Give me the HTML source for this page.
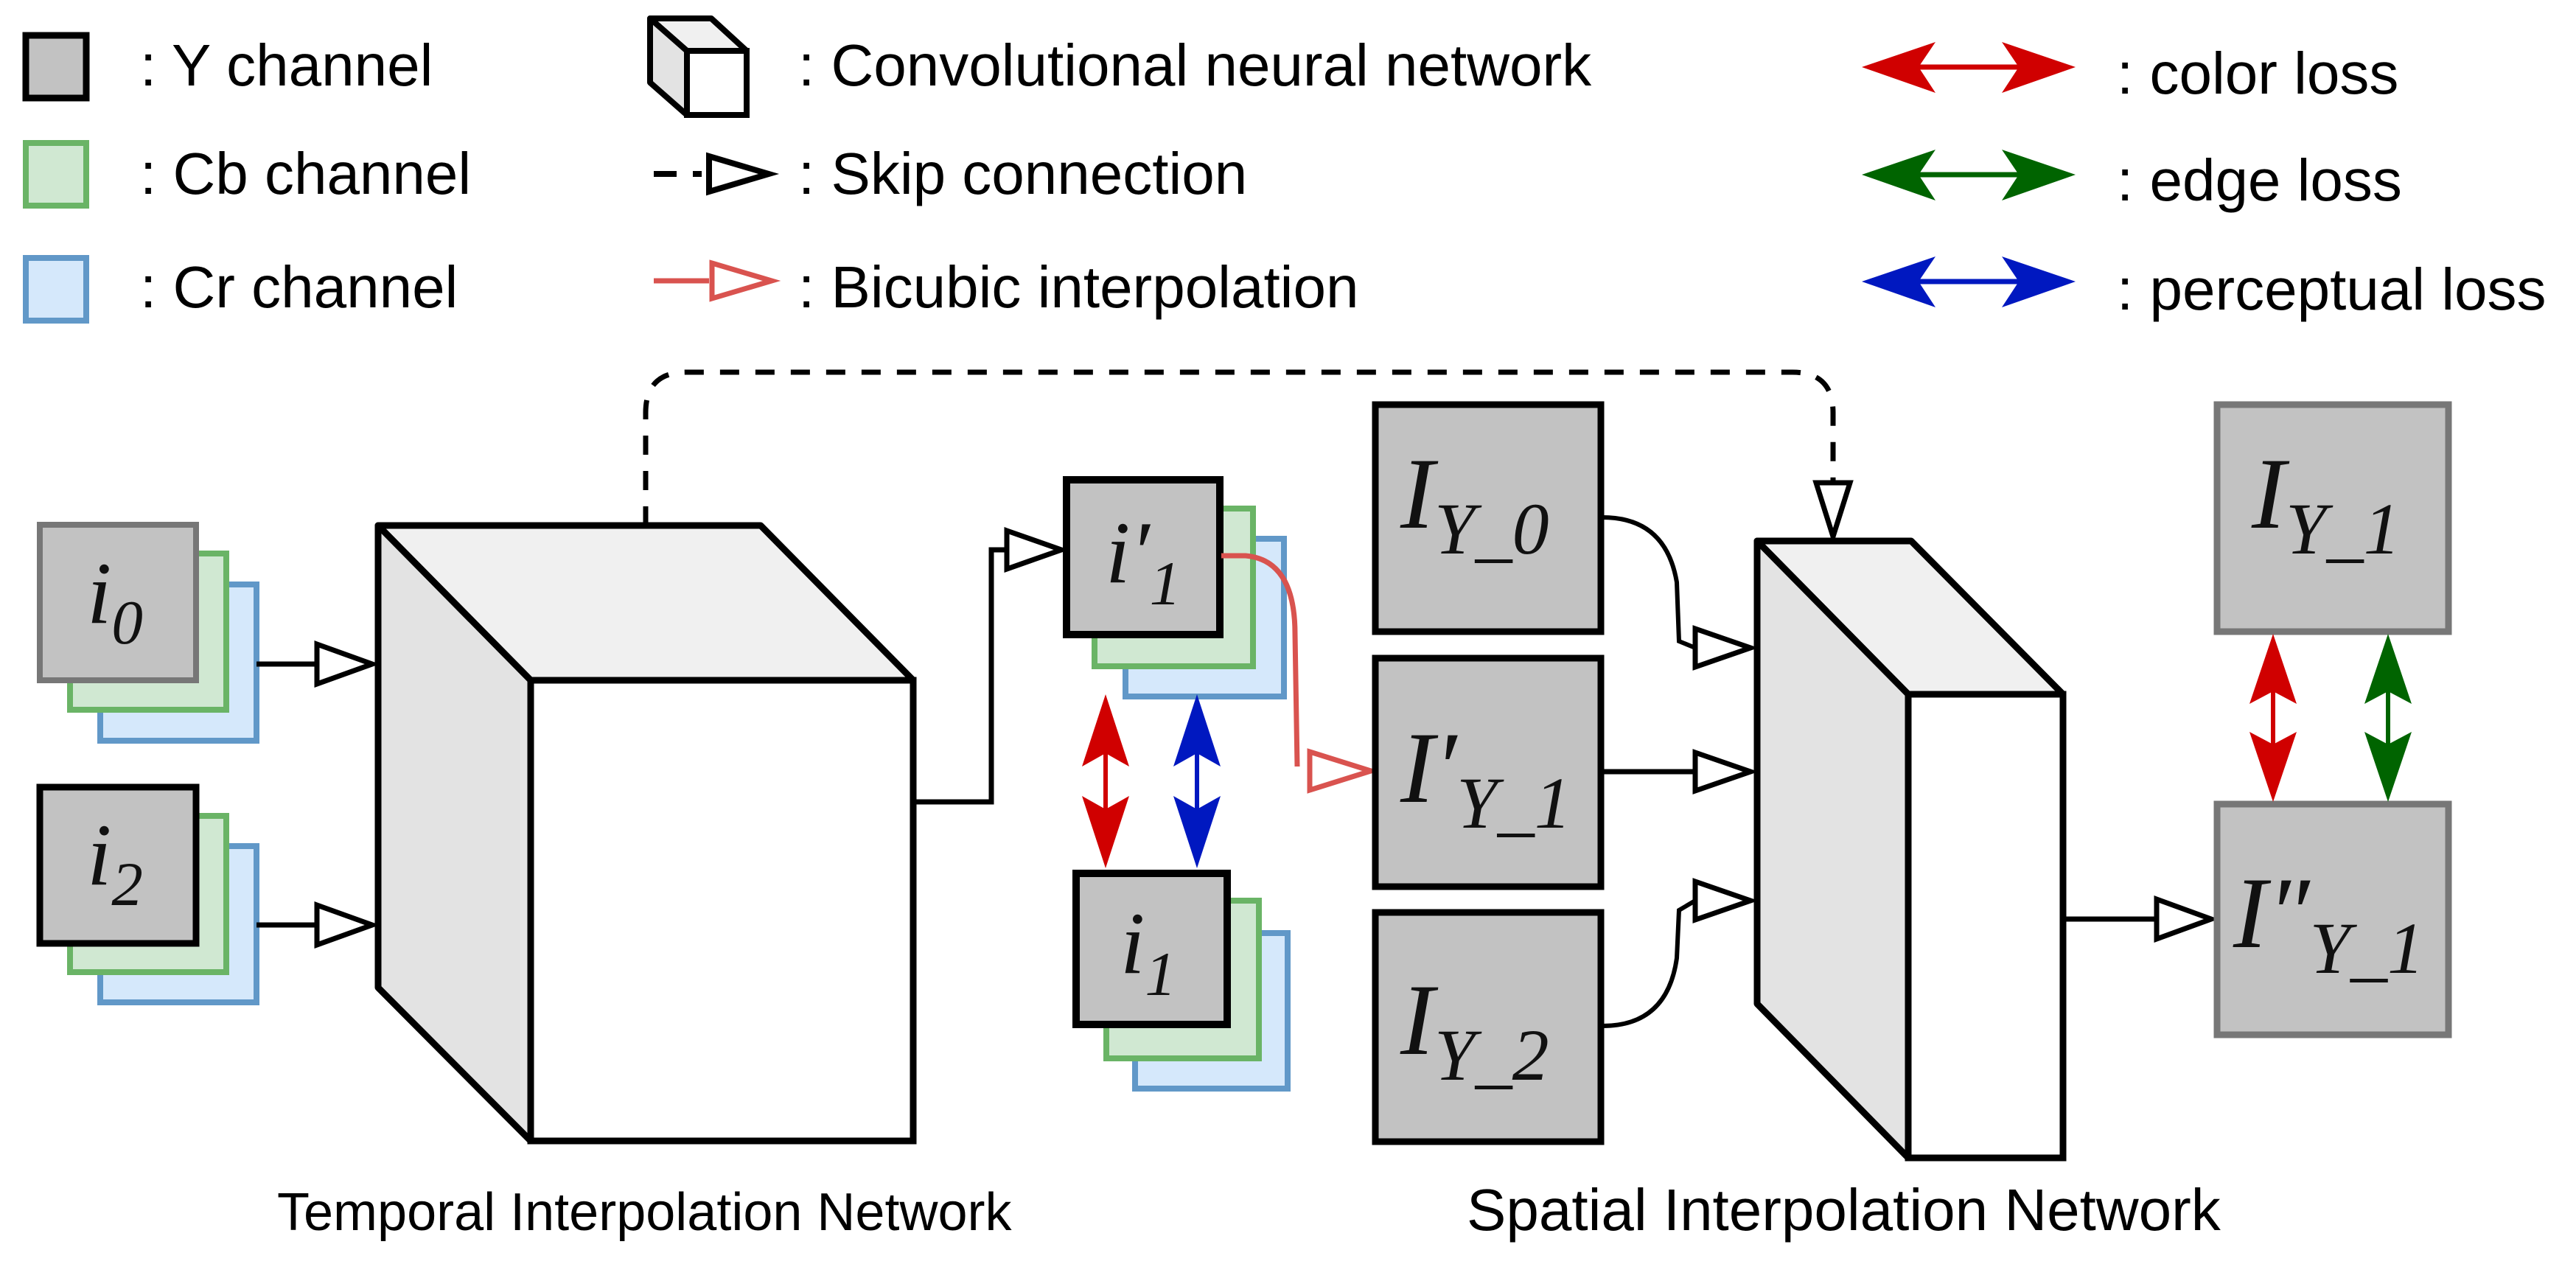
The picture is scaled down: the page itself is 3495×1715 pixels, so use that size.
<!DOCTYPE html>
<html><head><meta charset="utf-8"><style>
html,body{margin:0;padding:0;background:#fff;}
svg{display:block;}
.t{font-family:"Liberation Sans",sans-serif;fill:#000;}
.m{font-family:"Liberation Serif",serif;font-style:italic;fill:#111;}
</style></head><body>
<svg width="3495" height="1715" viewBox="0 0 3495 1715" xmlns="http://www.w3.org/2000/svg">

<!-- Legend boxes -->
<rect x="35" y="48" width="82" height="85" fill="#c2c2c2" stroke="#000" stroke-width="9"/>
<rect x="35" y="194" width="82" height="85" fill="#d0e8d2" stroke="#6ab466" stroke-width="8"/>
<rect x="35" y="350" width="82" height="85" fill="#d5e8fb" stroke="#6198c8" stroke-width="8"/>
<text class="t" x="190" y="116" font-size="80">: Y channel</text>
<text class="t" x="190" y="263" font-size="80">: Cb channel</text>
<text class="t" x="190" y="417" font-size="80">: Cr channel</text>

<!-- legend cube -->
<polygon points="882,25 965,25 1013,69 932,69" fill="#f0f0f0" stroke="#000" stroke-width="8" stroke-linejoin="round"/>
<polygon points="882,25 932,69 932,156 882,112" fill="#e3e3e3" stroke="#000" stroke-width="8" stroke-linejoin="round"/>
<rect x="932" y="69" width="81" height="87" fill="#fff" stroke="#000" stroke-width="8"/>
<text class="t" x="1083" y="116" font-size="80">: Convolutional neural network</text>

<!-- skip legend -->
<line x1="887" y1="236" x2="918" y2="236" stroke="#000" stroke-width="8"/>
<line x1="940" y1="236" x2="952" y2="236" stroke="#000" stroke-width="8"/>
<polygon points="962,212 1043,236 962,260" fill="#fff" stroke="#000" stroke-width="8"/>
<text class="t" x="1083" y="263" font-size="80">: Skip connection</text>

<!-- bicubic legend -->
<line x1="887" y1="381" x2="962" y2="381" stroke="#d9534f" stroke-width="7"/>
<polygon points="966,357 1047,381 966,405" fill="#fff" stroke="#d9534f" stroke-width="7"/>
<text class="t" x="1083" y="417" font-size="80">: Bicubic interpolation</text>

<!-- loss legend -->
<line x1="2560" y1="91" x2="2782" y2="91" stroke="#d00000" stroke-width="7"/>
<polygon points="2526,91 2626,57 2603,91 2626,126" fill="#d00000"/>
<polygon points="2816,91 2716,57 2739,91 2716,126" fill="#d00000"/>
<line x1="2560" y1="237" x2="2782" y2="237" stroke="#006400" stroke-width="7"/>
<polygon points="2526,237 2626,203 2603,237 2626,272" fill="#006400"/>
<polygon points="2816,237 2716,203 2739,237 2716,272" fill="#006400"/>
<line x1="2560" y1="382" x2="2782" y2="382" stroke="#0018c0" stroke-width="7"/>
<polygon points="2526,382 2626,348 2603,382 2626,417" fill="#0018c0"/>
<polygon points="2816,382 2716,348 2739,382 2716,417" fill="#0018c0"/>
<text class="t" x="2872" y="127" font-size="80">: color loss</text>
<text class="t" x="2872" y="272" font-size="80">: edge loss</text>
<text class="t" x="2872" y="420" font-size="80">: perceptual loss</text>

<!-- skip dashed path -->
<path d="M876,713 L876,560 Q876,505 931,505 L2432,505 Q2487,505 2487,560 L2487,655" fill="none" stroke="#000" stroke-width="7" stroke-dasharray="26,22"/>
<polygon points="2464,655 2510,655 2487,728" fill="#fff" stroke="#000" stroke-width="7"/>

<!-- inputs i0 -->
<rect x="136" y="793" width="212" height="212" fill="#d5e8fb" stroke="#6198c8" stroke-width="8"/>
<rect x="95" y="751" width="212" height="212" fill="#d0e8d2" stroke="#6ab466" stroke-width="8"/>
<rect x="54" y="712" width="212" height="211" fill="#c2c2c2" stroke="#777" stroke-width="8"/>
<text class="m" x="118" y="845" font-size="120">i<tspan font-size="85" dy="28">0</tspan></text>
<!-- i2 -->
<rect x="136" y="1148" width="212" height="212" fill="#d5e8fb" stroke="#6198c8" stroke-width="8"/>
<rect x="95" y="1107" width="212" height="212" fill="#d0e8d2" stroke="#6ab466" stroke-width="8"/>
<rect x="54" y="1068" width="212" height="212" fill="#c2c2c2" stroke="#000" stroke-width="9"/>
<text class="m" x="118" y="1200" font-size="120">i<tspan font-size="85" dy="28">2</tspan></text>

<line x1="348" y1="901" x2="430" y2="901" stroke="#000" stroke-width="7"/>
<polygon points="430,874 505,901 430,928" fill="#fff" stroke="#000" stroke-width="7"/>
<line x1="348" y1="1255" x2="430" y2="1255" stroke="#000" stroke-width="7"/>
<polygon points="430,1228 505,1255 430,1282" fill="#fff" stroke="#000" stroke-width="7"/>

<!-- temporal cube -->
<polygon points="513,713 1032,713 1239,923 720,923" fill="#f0f0f0" stroke="#000" stroke-width="9" stroke-linejoin="round"/>
<polygon points="513,713 720,923 720,1548 513,1340" fill="#e3e3e3" stroke="#000" stroke-width="9" stroke-linejoin="round"/>
<rect x="720" y="923" width="519" height="625" fill="#fff" stroke="#000" stroke-width="9"/>

<!-- TIN output -->
<polyline points="1239,1088 1345,1088 1345,746 1366,746" fill="none" stroke="#000" stroke-width="7"/>
<polygon points="1366,720 1440,746 1366,772" fill="#fff" stroke="#000" stroke-width="7"/>

<!-- i'1 -->
<rect x="1527" y="731" width="215" height="214" fill="#d5e8fb" stroke="#6198c8" stroke-width="8"/>
<rect x="1485" y="690" width="215" height="214" fill="#d0e8d2" stroke="#6ab466" stroke-width="8"/>
<rect x="1447" y="651" width="208" height="210" fill="#c2c2c2" stroke="#000" stroke-width="10"/>
<text class="m" x="1500" y="790" font-size="120">i′<tspan font-size="85" dy="30">1</tspan></text>

<!-- bicubic curve -->
<path d="M1657,754 L1690,754 Q1757,760 1757,860 L1760,1040" fill="none" stroke="#d9534f" stroke-width="7"/>
<polygon points="1777,1020 1860,1046 1777,1072" fill="#fff" stroke="#d9534f" stroke-width="7"/>

<!-- i1 -->
<rect x="1540" y="1266" width="207" height="211" fill="#d5e8fb" stroke="#6198c8" stroke-width="8"/>
<rect x="1501" y="1222" width="207" height="214" fill="#d0e8d2" stroke="#6ab466" stroke-width="8"/>
<rect x="1460" y="1185" width="205" height="205" fill="#c2c2c2" stroke="#000" stroke-width="10"/>
<text class="m" x="1520" y="1320" font-size="120">i<tspan font-size="85" dy="30">1</tspan></text>

<!-- loss arrows middle -->
<line x1="1500" y1="990" x2="1500" y2="1130" stroke="#d00000" stroke-width="6"/>
<polygon points="1500,942 1532,1040 1500,1022 1468,1040" fill="#d00000"/>
<polygon points="1500,1178 1532,1080 1500,1098 1468,1080" fill="#d00000"/>
<line x1="1624" y1="990" x2="1624" y2="1130" stroke="#0018c0" stroke-width="6"/>
<polygon points="1624,942 1656,1040 1624,1022 1592,1040" fill="#0018c0"/>
<polygon points="1624,1178 1656,1080 1624,1098 1592,1080" fill="#0018c0"/>

<!-- I_Y boxes -->
<rect x="1866" y="549" width="306" height="308" fill="#c2c2c2" stroke="#000" stroke-width="9"/>
<text class="m" x="1900" y="716" font-size="138">I<tspan font-size="100" dy="35">Y_0</tspan></text>
<rect x="1866" y="893" width="306" height="310" fill="#c2c2c2" stroke="#000" stroke-width="9"/>
<text class="m" x="1900" y="1088" font-size="138">I′<tspan font-size="100" dy="35">Y_1</tspan></text>
<rect x="1866" y="1238" width="306" height="311" fill="#c2c2c2" stroke="#000" stroke-width="9"/>
<text class="m" x="1900" y="1430" font-size="138">I<tspan font-size="100" dy="35">Y_2</tspan></text>

<!-- SIN inputs -->
<path d="M2174,702 Q2260,702 2275,790 L2278,870 L2300,879" fill="none" stroke="#000" stroke-width="6"/>
<polygon points="2300,853 2375,879 2300,905" fill="#fff" stroke="#000" stroke-width="7"/>
<line x1="2174" y1="1047" x2="2300" y2="1047" stroke="#000" stroke-width="7"/>
<polygon points="2300,1021 2375,1047 2300,1073" fill="#fff" stroke="#000" stroke-width="7"/>
<path d="M2174,1392 Q2262,1392 2275,1300 L2278,1235 L2300,1222" fill="none" stroke="#000" stroke-width="6"/>
<polygon points="2300,1196 2375,1222 2300,1248" fill="#fff" stroke="#000" stroke-width="7"/>

<!-- spatial cube -->
<polygon points="2384,734 2593,734 2799,942 2589,942" fill="#f0f0f0" stroke="#000" stroke-width="9" stroke-linejoin="round"/>
<polygon points="2384,734 2589,942 2589,1571 2384,1362" fill="#e3e3e3" stroke="#000" stroke-width="9" stroke-linejoin="round"/>
<rect x="2589" y="942" width="210" height="629" fill="#fff" stroke="#000" stroke-width="9"/>

<!-- SIN output -->
<line x1="2799" y1="1247" x2="2926" y2="1247" stroke="#000" stroke-width="7"/>
<polygon points="2926,1220 3000,1247 2926,1274" fill="#fff" stroke="#000" stroke-width="7"/>

<!-- right boxes -->
<rect x="3008" y="549" width="314" height="308" fill="#c2c2c2" stroke="#777" stroke-width="9"/>
<text class="m" x="3055" y="716" font-size="138" fill="#222">I<tspan font-size="100" dy="35">Y_1</tspan></text>
<rect x="3008" y="1091" width="314" height="313" fill="#c2c2c2" stroke="#777" stroke-width="9"/>
<text class="m" x="3030" y="1285" font-size="138" fill="#222">I″<tspan font-size="100" dy="35">Y_1</tspan></text>

<line x1="3084" y1="905" x2="3084" y2="1040" stroke="#d00000" stroke-width="6"/>
<polygon points="3084,860 3116,955 3084,938 3052,955" fill="#d00000"/>
<polygon points="3084,1088 3116,993 3084,1010 3052,993" fill="#d00000"/>
<line x1="3240" y1="905" x2="3240" y2="1040" stroke="#006400" stroke-width="6"/>
<polygon points="3240,860 3272,955 3240,938 3208,955" fill="#006400"/>
<polygon points="3240,1088 3272,993 3240,1010 3208,993" fill="#006400"/>

<!-- captions -->
<text class="t" x="376" y="1669" font-size="72">Temporal Interpolation Network</text>
<text class="t" x="1990" y="1669" font-size="80">Spatial Interpolation Network</text>
</svg>
</body></html>
